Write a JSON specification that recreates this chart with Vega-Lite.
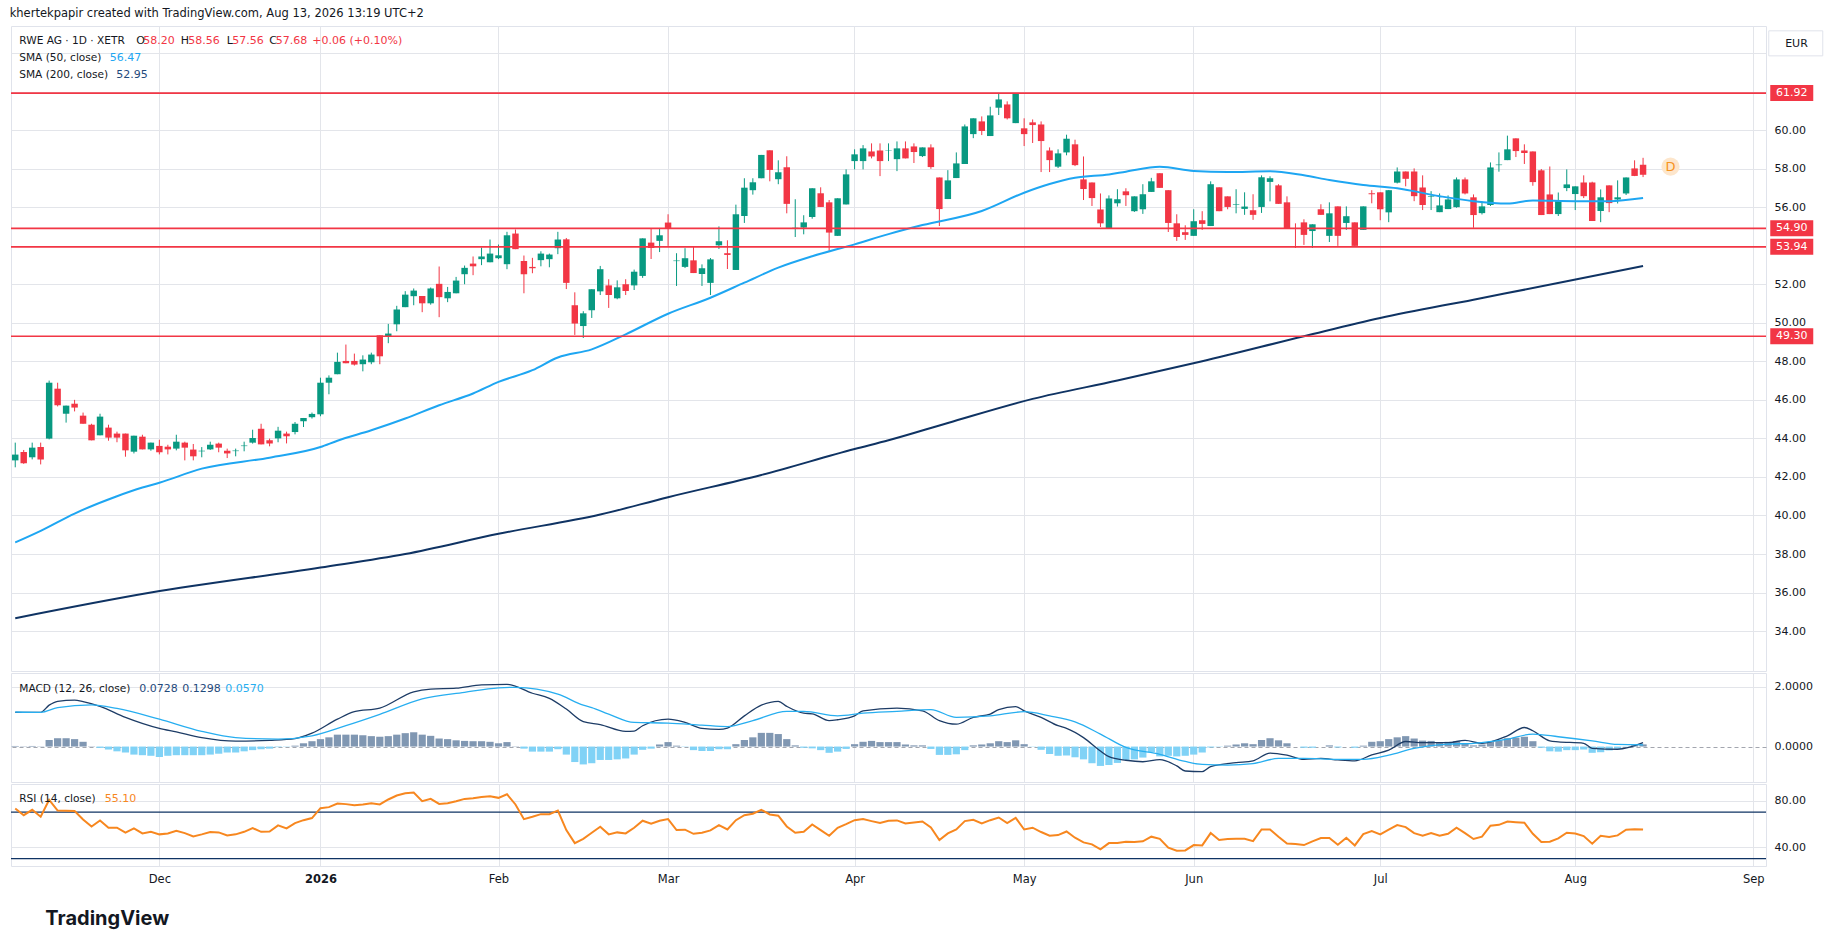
{
"$schema":"https://vega.github.io/schema/vega-lite/v6.json",
"background":"white",
"padding":{"left":9,"top":8,"right":5,"bottom":5},
"title":{"text":"khertekpapir created with TradingView.com, Aug 13, 2026 13:19 UTC+2","anchor":"start","fontSize":11.5,"fontWeight":"normal","font":"DejaVu Sans","color":"#131722","offset":6},
"config":{"font":"DejaVu Sans","view":{"stroke":"#e0e3eb"},"concat":{"spacing":0},
"axis":{"labelFont":"DejaVu Sans","labelFontSize":11,"labelColor":"#131722","gridColor":"#e3e5ea","ticks":false,"domain":false}},
"datasets":{
"bars":[
{"d":"2025-11-06","o":42.86,"h":43.78,"l":42.5,"c":43.16,"hist":0.02,"rsi":73.1},
{"d":"2025-11-07","o":43.29,"h":43.4,"l":42.68,"c":42.71,"hist":0.01,"rsi":67.4},
{"d":"2025-11-10","o":43.02,"h":43.78,"l":42.91,"c":43.52,"hist":0.02,"rsi":72.0},
{"d":"2025-11-11","o":43.55,"h":43.78,"l":42.65,"c":42.91,"hist":0.01,"rsi":66.0},
{"d":"2025-11-12","o":43.99,"h":47.0,"l":43.95,"c":46.89,"hist":0.22,"rsi":80.6},
{"d":"2025-11-13","o":46.58,"h":46.89,"l":45.66,"c":45.72,"hist":0.28,"rsi":71.4},
{"d":"2025-11-14","o":45.28,"h":45.7,"l":44.82,"c":45.7,"hist":0.28,"rsi":71.1},
{"d":"2025-11-17","o":45.8,"h":46.0,"l":45.4,"c":45.6,"hist":0.25,"rsi":70.9},
{"d":"2025-11-18","o":45.18,"h":45.34,"l":44.76,"c":44.76,"hist":0.16,"rsi":63.7},
{"d":"2025-11-19","o":44.71,"h":44.76,"l":43.9,"c":43.9,"hist":0.01,"rsi":57.7},
{"d":"2025-11-20","o":44.16,"h":45.28,"l":44.16,"c":45.13,"hist":-0.045,"rsi":62.9},
{"d":"2025-11-21","o":44.56,"h":44.71,"l":43.88,"c":44.04,"hist":-0.1,"rsi":56.6},
{"d":"2025-11-24","o":44.25,"h":44.35,"l":43.8,"c":44.04,"hist":-0.16,"rsi":56.6},
{"d":"2025-11-25","o":44.25,"h":44.25,"l":43.05,"c":43.38,"hist":-0.2,"rsi":52.3},
{"d":"2025-11-26","o":43.31,"h":44.14,"l":43.22,"c":44.14,"hist":-0.27,"rsi":56.0},
{"d":"2025-11-27","o":44.09,"h":44.19,"l":43.43,"c":43.43,"hist":-0.29,"rsi":51.7},
{"d":"2025-11-28","o":43.43,"h":43.78,"l":43.36,"c":43.78,"hist":-0.31,"rsi":53.1},
{"d":"2025-12-01","o":43.61,"h":43.93,"l":43.17,"c":43.28,"hist":-0.35,"rsi":50.9},
{"d":"2025-12-02","o":43.57,"h":43.67,"l":43.17,"c":43.43,"hist":-0.31,"rsi":51.7},
{"d":"2025-12-03","o":43.47,"h":44.19,"l":43.38,"c":43.83,"hist":-0.29,"rsi":54.0},
{"d":"2025-12-04","o":43.78,"h":43.83,"l":42.86,"c":43.52,"hist":-0.29,"rsi":52.0},
{"d":"2025-12-05","o":43.42,"h":43.71,"l":42.86,"c":43.07,"hist":-0.29,"rsi":49.1},
{"d":"2025-12-08","o":43.33,"h":43.55,"l":43.02,"c":43.36,"hist":-0.29,"rsi":50.9},
{"d":"2025-12-09","o":43.43,"h":43.83,"l":43.4,"c":43.67,"hist":-0.27,"rsi":52.9},
{"d":"2025-12-10","o":43.73,"h":43.78,"l":43.28,"c":43.52,"hist":-0.24,"rsi":52.6},
{"d":"2025-12-11","o":43.36,"h":43.47,"l":42.98,"c":43.22,"hist":-0.2,"rsi":50.0},
{"d":"2025-12-12","o":43.34,"h":43.47,"l":43.07,"c":43.37,"hist":-0.2,"rsi":50.9},
{"d":"2025-12-15","o":43.6,"h":43.83,"l":43.33,"c":43.63,"hist":-0.16,"rsi":53.1},
{"d":"2025-12-16","o":43.78,"h":44.45,"l":43.73,"c":44.02,"hist":-0.12,"rsi":56.3},
{"d":"2025-12-17","o":44.5,"h":44.76,"l":43.69,"c":43.69,"hist":-0.09,"rsi":53.1},
{"d":"2025-12-18","o":43.9,"h":43.99,"l":43.59,"c":43.74,"hist":-0.07,"rsi":53.4},
{"d":"2025-12-19","o":44.0,"h":44.6,"l":43.8,"c":44.4,"hist":-0.02,"rsi":58.6},
{"d":"2025-12-22","o":44.25,"h":44.35,"l":43.74,"c":44.11,"hist":-0.01,"rsi":56.0},
{"d":"2025-12-23","o":44.33,"h":44.85,"l":44.21,"c":44.76,"hist":0.03,"rsi":60.6},
{"d":"2025-12-29","o":44.89,"h":45.06,"l":44.59,"c":45.06,"hist":0.11,"rsi":63.1},
{"d":"2025-12-30","o":45.1,"h":45.34,"l":45.03,"c":45.27,"hist":0.18,"rsi":64.9},
{"d":"2026-01-02","o":45.25,"h":47.15,"l":45.15,"c":46.89,"hist":0.25,"rsi":73.4},
{"d":"2026-01-05","o":46.89,"h":47.27,"l":46.29,"c":47.15,"hist":0.31,"rsi":74.3},
{"d":"2026-01-06","o":47.33,"h":48.45,"l":47.33,"c":47.97,"hist":0.4,"rsi":77.4},
{"d":"2026-01-07","o":48.02,"h":48.87,"l":47.9,"c":47.9,"hist":0.4,"rsi":76.9},
{"d":"2026-01-08","o":48.02,"h":48.4,"l":47.78,"c":47.83,"hist":0.4,"rsi":76.0},
{"d":"2026-01-09","o":47.85,"h":48.31,"l":47.48,"c":48.09,"hist":0.38,"rsi":76.6},
{"d":"2026-01-12","o":47.95,"h":48.45,"l":47.85,"c":48.35,"hist":0.35,"rsi":77.7},
{"d":"2026-01-13","o":49.35,"h":49.35,"l":47.85,"c":48.26,"hist":0.33,"rsi":76.6},
{"d":"2026-01-14","o":49.27,"h":49.94,"l":48.94,"c":49.44,"hist":0.35,"rsi":80.9},
{"d":"2026-01-15","o":49.92,"h":50.88,"l":49.56,"c":50.69,"hist":0.4,"rsi":84.3},
{"d":"2026-01-16","o":50.81,"h":51.64,"l":50.81,"c":51.46,"hist":0.45,"rsi":86.3},
{"d":"2026-01-19","o":51.38,"h":51.78,"l":50.91,"c":51.67,"hist":0.48,"rsi":86.9},
{"d":"2026-01-20","o":51.39,"h":51.39,"l":50.55,"c":51.01,"hist":0.4,"rsi":79.4},
{"d":"2026-01-21","o":51.01,"h":51.83,"l":50.94,"c":51.78,"hist":0.36,"rsi":81.4},
{"d":"2026-01-22","o":52.02,"h":52.92,"l":50.29,"c":51.33,"hist":0.27,"rsi":77.1},
{"d":"2026-01-23","o":51.27,"h":51.86,"l":51.07,"c":51.6,"hist":0.25,"rsi":77.7},
{"d":"2026-01-26","o":51.53,"h":52.38,"l":51.53,"c":52.19,"hist":0.21,"rsi":79.4},
{"d":"2026-01-27","o":52.52,"h":52.97,"l":52.0,"c":52.85,"hist":0.19,"rsi":81.4},
{"d":"2026-01-28","o":53.07,"h":53.44,"l":52.47,"c":52.93,"hist":0.18,"rsi":82.0},
{"d":"2026-01-29","o":53.3,"h":53.9,"l":52.99,"c":53.44,"hist":0.18,"rsi":83.1},
{"d":"2026-01-30","o":53.14,"h":54.32,"l":53.14,"c":53.59,"hist":0.16,"rsi":83.7},
{"d":"2026-02-02","o":53.35,"h":54.06,"l":53.3,"c":53.5,"hist":0.11,"rsi":82.3},
{"d":"2026-02-03","o":53.04,"h":54.72,"l":52.78,"c":54.54,"hist":0.15,"rsi":85.4},
{"d":"2026-02-04","o":54.63,"h":54.84,"l":53.82,"c":53.82,"hist":0.01,"rsi":76.6},
{"d":"2026-02-05","o":53.21,"h":53.49,"l":51.53,"c":52.52,"hist":-0.07,"rsi":64.0},
{"d":"2026-02-06","o":52.9,"h":53.37,"l":52.57,"c":52.83,"hist":-0.17,"rsi":66.0},
{"d":"2026-02-09","o":53.25,"h":53.71,"l":52.93,"c":53.59,"hist":-0.17,"rsi":68.3},
{"d":"2026-02-10","o":53.3,"h":53.59,"l":52.88,"c":53.54,"hist":-0.17,"rsi":68.3},
{"d":"2026-02-11","o":53.87,"h":54.72,"l":53.56,"c":54.32,"hist":-0.09,"rsi":71.4},
{"d":"2026-02-12","o":54.33,"h":54.4,"l":51.75,"c":52.07,"hist":-0.27,"rsi":54.6},
{"d":"2026-02-13","o":50.91,"h":51.58,"l":49.37,"c":49.96,"hist":-0.52,"rsi":43.4},
{"d":"2026-02-16","o":49.83,"h":50.6,"l":49.21,"c":50.49,"hist":-0.6,"rsi":47.1},
{"d":"2026-02-17","o":50.65,"h":51.74,"l":50.25,"c":51.74,"hist":-0.56,"rsi":52.3},
{"d":"2026-02-18","o":51.63,"h":52.95,"l":51.44,"c":52.78,"hist":-0.45,"rsi":57.4},
{"d":"2026-02-19","o":51.94,"h":52.26,"l":50.77,"c":51.44,"hist":-0.45,"rsi":50.9},
{"d":"2026-02-20","o":51.27,"h":52.2,"l":51.22,"c":51.84,"hist":-0.43,"rsi":52.6},
{"d":"2026-02-23","o":52.0,"h":52.26,"l":51.44,"c":51.65,"hist":-0.4,"rsi":51.7},
{"d":"2026-02-24","o":51.94,"h":52.76,"l":51.7,"c":52.65,"hist":-0.27,"rsi":56.6},
{"d":"2026-02-25","o":52.43,"h":54.38,"l":52.33,"c":54.38,"hist":-0.11,"rsi":62.6},
{"d":"2026-02-26","o":54.16,"h":54.89,"l":53.31,"c":53.88,"hist":-0.07,"rsi":60.0},
{"d":"2026-02-27","o":54.25,"h":54.92,"l":53.67,"c":54.54,"hist":0.07,"rsi":62.6},
{"d":"2026-03-02","o":55.2,"h":55.63,"l":53.99,"c":54.92,"hist":0.15,"rsi":64.0},
{"d":"2026-03-03","o":53.2,"h":53.61,"l":51.91,"c":53.23,"hist":0.03,"rsi":54.6},
{"d":"2026-03-04","o":52.9,"h":53.87,"l":52.84,"c":53.35,"hist":-0.01,"rsi":54.9},
{"d":"2026-03-05","o":53.24,"h":53.95,"l":52.58,"c":52.58,"hist":-0.12,"rsi":51.4},
{"d":"2026-03-06","o":52.53,"h":53.03,"l":51.91,"c":52.83,"hist":-0.15,"rsi":52.3},
{"d":"2026-03-09","o":52.07,"h":53.36,"l":51.44,"c":53.29,"hist":-0.15,"rsi":54.3},
{"d":"2026-03-10","o":54.02,"h":55.0,"l":53.83,"c":54.23,"hist":-0.09,"rsi":58.9},
{"d":"2026-03-11","o":53.61,"h":54.28,"l":52.79,"c":53.52,"hist":-0.09,"rsi":55.1},
{"d":"2026-03-12","o":52.74,"h":56.13,"l":52.74,"c":55.63,"hist":0.08,"rsi":63.1},
{"d":"2026-03-13","o":55.54,"h":57.5,"l":55.18,"c":57.01,"hist":0.22,"rsi":67.4},
{"d":"2026-03-16","o":56.88,"h":57.5,"l":56.65,"c":57.29,"hist":0.31,"rsi":68.6},
{"d":"2026-03-17","o":57.5,"h":58.71,"l":57.5,"c":58.71,"hist":0.46,"rsi":72.0},
{"d":"2026-03-18","o":58.95,"h":58.95,"l":57.34,"c":57.93,"hist":0.46,"rsi":68.0},
{"d":"2026-03-19","o":57.45,"h":58.43,"l":57.19,"c":57.81,"hist":0.42,"rsi":66.9},
{"d":"2026-03-20","o":58.07,"h":58.64,"l":55.68,"c":56.17,"hist":0.25,"rsi":57.7},
{"d":"2026-03-23","o":54.9,"h":56.41,"l":54.45,"c":54.93,"hist":0.04,"rsi":52.3},
{"d":"2026-03-24","o":54.94,"h":55.58,"l":54.59,"c":55.21,"hist":-0.04,"rsi":53.1},
{"d":"2026-03-25","o":55.49,"h":56.98,"l":55.4,"c":56.98,"hist":-0.06,"rsi":59.4},
{"d":"2026-03-26","o":56.72,"h":57.03,"l":56.01,"c":56.01,"hist":-0.12,"rsi":54.6},
{"d":"2026-03-27","o":56.25,"h":56.37,"l":53.73,"c":54.68,"hist":-0.21,"rsi":49.7},
{"d":"2026-03-30","o":54.51,"h":56.46,"l":54.51,"c":56.46,"hist":-0.17,"rsi":56.6},
{"d":"2026-03-31","o":56.14,"h":57.96,"l":56.14,"c":57.7,"hist":-0.08,"rsi":59.7},
{"d":"2026-04-01","o":58.39,"h":59.0,"l":57.96,"c":58.74,"hist":0.08,"rsi":63.1},
{"d":"2026-04-02","o":58.39,"h":59.22,"l":57.96,"c":59.05,"hist":0.16,"rsi":64.0},
{"d":"2026-04-07","o":58.89,"h":59.31,"l":58.53,"c":58.63,"hist":0.19,"rsi":62.3},
{"d":"2026-04-08","o":58.94,"h":59.31,"l":57.61,"c":58.39,"hist":0.15,"rsi":60.6},
{"d":"2026-04-09","o":58.93,"h":59.31,"l":58.39,"c":58.95,"hist":0.15,"rsi":62.6},
{"d":"2026-04-10","o":58.49,"h":59.41,"l":57.87,"c":59.05,"hist":0.15,"rsi":62.9},
{"d":"2026-04-13","o":59.05,"h":59.41,"l":58.53,"c":58.53,"hist":0.07,"rsi":60.3},
{"d":"2026-04-14","o":59.15,"h":59.31,"l":58.29,"c":58.86,"hist":0.04,"rsi":61.1},
{"d":"2026-04-15","o":58.65,"h":59.1,"l":58.6,"c":59.1,"hist":0.04,"rsi":62.0},
{"d":"2026-04-16","o":59.1,"h":59.26,"l":57.99,"c":58.08,"hist":-0.08,"rsi":56.9},
{"d":"2026-04-17","o":57.54,"h":57.54,"l":55.02,"c":55.9,"hist":-0.28,"rsi":46.0},
{"d":"2026-04-20","o":56.42,"h":57.92,"l":56.42,"c":57.39,"hist":-0.28,"rsi":51.7},
{"d":"2026-04-21","o":57.51,"h":58.84,"l":57.51,"c":58.27,"hist":-0.26,"rsi":55.1},
{"d":"2026-04-22","o":58.24,"h":60.29,"l":58.24,"c":60.19,"hist":-0.12,"rsi":62.3},
{"d":"2026-04-23","o":59.79,"h":60.61,"l":59.58,"c":60.61,"hist":0.04,"rsi":63.4},
{"d":"2026-04-24","o":60.45,"h":60.71,"l":59.74,"c":59.95,"hist":0.07,"rsi":60.3},
{"d":"2026-04-27","o":59.69,"h":61.21,"l":59.69,"c":60.76,"hist":0.11,"rsi":63.1},
{"d":"2026-04-28","o":61.16,"h":61.92,"l":60.78,"c":61.59,"hist":0.18,"rsi":65.4},
{"d":"2026-04-29","o":61.33,"h":61.49,"l":60.55,"c":60.61,"hist":0.15,"rsi":60.6},
{"d":"2026-04-30","o":60.36,"h":61.92,"l":60.36,"c":61.9,"hist":0.21,"rsi":65.1},
{"d":"2026-05-04","o":60.09,"h":60.61,"l":59.17,"c":59.79,"hist":0.08,"rsi":55.1},
{"d":"2026-05-05","o":60.4,"h":60.55,"l":59.33,"c":60.26,"hist":-0.01,"rsi":56.6},
{"d":"2026-05-06","o":60.29,"h":60.45,"l":57.82,"c":59.43,"hist":-0.11,"rsi":52.9},
{"d":"2026-05-07","o":58.94,"h":59.1,"l":57.82,"c":58.44,"hist":-0.25,"rsi":49.7},
{"d":"2026-05-08","o":58.1,"h":59.0,"l":58.03,"c":58.79,"hist":-0.31,"rsi":50.3},
{"d":"2026-05-11","o":58.84,"h":59.76,"l":58.69,"c":59.55,"hist":-0.3,"rsi":53.4},
{"d":"2026-05-12","o":59.26,"h":59.5,"l":58.13,"c":58.18,"hist":-0.36,"rsi":48.0},
{"d":"2026-05-13","o":57.44,"h":58.63,"l":56.37,"c":56.94,"hist":-0.43,"rsi":44.0},
{"d":"2026-05-14","o":57.28,"h":57.28,"l":56.06,"c":56.47,"hist":-0.56,"rsi":42.3},
{"d":"2026-05-15","o":55.88,"h":56.71,"l":54.97,"c":55.16,"hist":-0.65,"rsi":38.0},
{"d":"2026-05-18","o":54.91,"h":56.61,"l":54.91,"c":56.45,"hist":-0.62,"rsi":43.4},
{"d":"2026-05-19","o":56.2,"h":56.93,"l":56.03,"c":56.41,"hist":-0.55,"rsi":43.4},
{"d":"2026-05-20","o":56.82,"h":56.98,"l":56.06,"c":56.62,"hist":-0.45,"rsi":44.6},
{"d":"2026-05-21","o":55.79,"h":56.56,"l":55.75,"c":56.56,"hist":-0.43,"rsi":44.3},
{"d":"2026-05-22","o":55.89,"h":57.19,"l":55.65,"c":56.67,"hist":-0.37,"rsi":44.9},
{"d":"2026-05-25","o":56.79,"h":57.52,"l":56.79,"c":57.34,"hist":-0.19,"rsi":48.9},
{"d":"2026-05-26","o":57.76,"h":57.76,"l":57.0,"c":57.0,"hist":-0.33,"rsi":47.1},
{"d":"2026-05-27","o":56.88,"h":56.88,"l":54.71,"c":55.18,"hist":-0.31,"rsi":39.4},
{"d":"2026-05-28","o":55.16,"h":55.63,"l":54.25,"c":54.45,"hist":-0.33,"rsi":36.9},
{"d":"2026-05-29","o":54.7,"h":55.06,"l":54.3,"c":54.56,"hist":-0.31,"rsi":37.1},
{"d":"2026-06-01","o":54.51,"h":55.89,"l":54.51,"c":55.27,"hist":-0.27,"rsi":41.7},
{"d":"2026-06-02","o":55.32,"h":55.79,"l":54.82,"c":55.13,"hist":-0.2,"rsi":41.4},
{"d":"2026-06-03","o":55.02,"h":57.34,"l":55.02,"c":57.19,"hist":-0.03,"rsi":52.0},
{"d":"2026-06-04","o":57.03,"h":57.03,"l":55.79,"c":55.79,"hist":-0.01,"rsi":46.0},
{"d":"2026-06-05","o":56.56,"h":56.56,"l":55.89,"c":56.01,"hist":0.03,"rsi":46.9},
{"d":"2026-06-08","o":56.13,"h":56.93,"l":55.68,"c":56.16,"hist":0.07,"rsi":47.1},
{"d":"2026-06-09","o":55.91,"h":56.77,"l":55.6,"c":56.03,"hist":0.11,"rsi":47.1},
{"d":"2026-06-10","o":55.84,"h":56.67,"l":55.34,"c":55.6,"hist":0.08,"rsi":45.1},
{"d":"2026-06-11","o":56.01,"h":57.65,"l":55.7,"c":57.55,"hist":0.22,"rsi":55.1},
{"d":"2026-06-12","o":57.31,"h":57.6,"l":56.3,"c":57.5,"hist":0.28,"rsi":55.1},
{"d":"2026-06-15","o":57.13,"h":57.19,"l":56.17,"c":56.17,"hist":0.21,"rsi":48.9},
{"d":"2026-06-16","o":56.25,"h":56.56,"l":54.89,"c":54.89,"hist":0.11,"rsi":43.1},
{"d":"2026-06-17","o":54.9,"h":55.16,"l":53.88,"c":54.87,"hist":0.0,"rsi":42.6},
{"d":"2026-06-18","o":55.21,"h":55.37,"l":54.04,"c":54.56,"hist":-0.04,"rsi":41.7},
{"d":"2026-06-19","o":54.76,"h":55.11,"l":53.88,"c":55.11,"hist":-0.04,"rsi":44.9},
{"d":"2026-06-22","o":55.89,"h":56.15,"l":55.6,"c":55.6,"hist":0.0,"rsi":47.7},
{"d":"2026-06-23","o":54.51,"h":56.25,"l":54.19,"c":55.68,"hist":0.04,"rsi":47.7},
{"d":"2026-06-24","o":56.04,"h":56.04,"l":53.99,"c":54.51,"hist":-0.03,"rsi":42.0},
{"d":"2026-06-25","o":55.18,"h":56.04,"l":54.82,"c":55.53,"hist":0.0,"rsi":48.0},
{"d":"2026-06-26","o":55.21,"h":55.21,"l":53.94,"c":53.99,"hist":-0.04,"rsi":41.4},
{"d":"2026-06-29","o":54.82,"h":56.04,"l":54.82,"c":56.04,"hist":0.03,"rsi":51.1},
{"d":"2026-06-30","o":56.72,"h":56.88,"l":56.2,"c":56.67,"hist":0.16,"rsi":53.7},
{"d":"2026-07-01","o":56.77,"h":56.77,"l":55.32,"c":55.89,"hist":0.18,"rsi":50.9},
{"d":"2026-07-02","o":55.73,"h":56.89,"l":55.22,"c":56.88,"hist":0.25,"rsi":54.9},
{"d":"2026-07-03","o":57.27,"h":58.06,"l":57.23,"c":57.85,"hist":0.31,"rsi":58.9},
{"d":"2026-07-06","o":57.85,"h":57.85,"l":57.08,"c":57.47,"hist":0.35,"rsi":57.1},
{"d":"2026-07-07","o":57.85,"h":58.01,"l":56.31,"c":56.57,"hist":0.27,"rsi":52.0},
{"d":"2026-07-08","o":57.02,"h":57.65,"l":55.85,"c":56.11,"hist":0.2,"rsi":49.7},
{"d":"2026-07-09","o":56.54,"h":56.83,"l":55.85,"c":56.57,"hist":0.19,"rsi":52.0},
{"d":"2026-07-10","o":55.74,"h":56.71,"l":55.74,"c":56.09,"hist":0.15,"rsi":49.7},
{"d":"2026-07-13","o":55.9,"h":56.61,"l":55.9,"c":56.4,"hist":0.16,"rsi":51.4},
{"d":"2026-07-14","o":56.0,"h":57.54,"l":55.97,"c":57.44,"hist":0.18,"rsi":56.6},
{"d":"2026-07-15","o":57.44,"h":57.54,"l":56.66,"c":56.71,"hist":0.12,"rsi":52.0},
{"d":"2026-07-16","o":56.51,"h":56.66,"l":54.93,"c":55.59,"hist":0.04,"rsi":46.9},
{"d":"2026-07-17","o":55.69,"h":56.3,"l":55.62,"c":56.04,"hist":0.07,"rsi":48.9},
{"d":"2026-07-20","o":56.11,"h":58.32,"l":56.06,"c":58.06,"hist":0.16,"rsi":58.3},
{"d":"2026-07-21","o":58.18,"h":58.84,"l":57.84,"c":58.21,"hist":0.21,"rsi":59.1},
{"d":"2026-07-22","o":58.44,"h":59.71,"l":58.44,"c":59.0,"hist":0.28,"rsi":62.0},
{"d":"2026-07-23","o":59.57,"h":59.57,"l":58.6,"c":58.91,"hist":0.3,"rsi":61.4},
{"d":"2026-07-24","o":58.94,"h":59.26,"l":58.24,"c":58.81,"hist":0.33,"rsi":60.9},
{"d":"2026-07-27","o":58.89,"h":58.89,"l":57.11,"c":57.3,"hist":0.18,"rsi":51.4},
{"d":"2026-07-28","o":57.91,"h":57.98,"l":55.59,"c":55.59,"hist":-0.04,"rsi":44.3},
{"d":"2026-07-29","o":56.66,"h":58.11,"l":55.64,"c":55.64,"hist":-0.16,"rsi":44.6},
{"d":"2026-07-30","o":55.64,"h":56.76,"l":55.54,"c":56.31,"hist":-0.17,"rsi":47.4},
{"d":"2026-07-31","o":56.99,"h":57.96,"l":56.83,"c":57.18,"hist":-0.12,"rsi":52.3},
{"d":"2026-08-03","o":56.68,"h":57.08,"l":55.85,"c":57.08,"hist":-0.12,"rsi":51.7},
{"d":"2026-08-04","o":57.28,"h":57.65,"l":56.47,"c":56.57,"hist":-0.1,"rsi":49.4},
{"d":"2026-08-05","o":57.28,"h":57.32,"l":55.28,"c":55.28,"hist":-0.21,"rsi":42.9},
{"d":"2026-08-06","o":55.8,"h":56.92,"l":55.22,"c":56.51,"hist":-0.19,"rsi":49.7},
{"d":"2026-08-07","o":57.13,"h":57.13,"l":55.74,"c":56.21,"hist":-0.13,"rsi":48.6},
{"d":"2026-08-10","o":56.4,"h":57.39,"l":56.19,"c":56.51,"hist":-0.07,"rsi":50.0},
{"d":"2026-08-11","o":56.71,"h":57.54,"l":56.63,"c":57.54,"hist":-0.01,"rsi":54.9},
{"d":"2026-08-12","o":58.01,"h":58.43,"l":57.61,"c":57.62,"hist":0.04,"rsi":55.4},
{"d":"2026-08-13","o":58.2,"h":58.56,"l":57.56,"c":57.68,"hist":0.0728,"rsi":55.1}
],
"sma50":[
{"d":"2025-11-06","v":38.6},{"d":"2025-11-11","v":39.2},{"d":"2025-11-17","v":40.1},{"d":"2025-11-24","v":41.0},{"d":"2025-11-27","v":41.45},{"d":"2025-12-01","v":41.7},{"d":"2025-12-08","v":42.43},{"d":"2025-12-18","v":43.0},{"d":"2026-01-02","v":43.55},{"d":"2026-01-06","v":43.88},{"d":"2026-01-12","v":44.42},{"d":"2026-01-16","v":45.03},{"d":"2026-01-22","v":45.72},{"d":"2026-01-28","v":46.33},{"d":"2026-02-02","v":46.93},{"d":"2026-02-06","v":47.54},{"d":"2026-02-11","v":48.2},{"d":"2026-02-17","v":48.62},{"d":"2026-02-23","v":49.4},{"d":"2026-03-02","v":50.47},{"d":"2026-03-09","v":51.3},{"d":"2026-03-13","v":52.08},{"d":"2026-03-19","v":52.86},{"d":"2026-03-25","v":53.45},{"d":"2026-04-01","v":54.07},{"d":"2026-04-09","v":54.6},{"d":"2026-04-15","v":55.07},{"d":"2026-04-24","v":55.8},{"d":"2026-05-04","v":56.75},{"d":"2026-05-07","v":57.2},{"d":"2026-05-12","v":57.53},{"d":"2026-05-18","v":57.7},{"d":"2026-05-20","v":57.84},{"d":"2026-05-26","v":58.09},{"d":"2026-06-01","v":57.88},{"d":"2026-06-05","v":57.82},{"d":"2026-06-12","v":57.86},{"d":"2026-06-18","v":57.65},{"d":"2026-06-23","v":57.41},{"d":"2026-06-29","v":57.15},{"d":"2026-07-03","v":56.98},{"d":"2026-07-10","v":56.57},{"d":"2026-07-16","v":56.31},{"d":"2026-07-22","v":56.19},{"d":"2026-07-27","v":56.35},{"d":"2026-08-03","v":56.31},{"d":"2026-08-07","v":56.31},{"d":"2026-08-13","v":56.47}
],
"sma200":[
{"d":"2025-11-06","v":34.67},{"d":"2025-11-28","v":36.0},{"d":"2026-01-02","v":37.3},{"d":"2026-01-16","v":38.0},{"d":"2026-02-02","v":39.05},{"d":"2026-02-18","v":40.05},{"d":"2026-03-02","v":40.95},{"d":"2026-03-17","v":42.1},{"d":"2026-04-01","v":43.45},{"d":"2026-04-09","v":43.9},{"d":"2026-04-20","v":44.8},{"d":"2026-05-05","v":46.05},{"d":"2026-05-19","v":47.0},{"d":"2026-06-02","v":48.0},{"d":"2026-06-18","v":49.3},{"d":"2026-07-01","v":50.25},{"d":"2026-07-16","v":51.2},{"d":"2026-07-31","v":52.15},{"d":"2026-08-13","v":52.95}
],
"macd":[
{"d":"2025-11-06","v":1.15},{"d":"2025-11-11","v":1.15},{"d":"2025-11-12","v":1.39},{"d":"2025-11-13","v":1.52},{"d":"2025-11-17","v":1.56},{"d":"2025-11-18","v":1.51},{"d":"2025-11-20","v":1.35},{"d":"2025-11-25","v":0.98},{"d":"2025-12-01","v":0.61},{"d":"2025-12-03","v":0.49},{"d":"2025-12-08","v":0.3},{"d":"2025-12-12","v":0.18},{"d":"2025-12-18","v":0.21},{"d":"2025-12-23","v":0.27},{"d":"2025-12-30","v":0.45},{"d":"2026-01-06","v":0.92},{"d":"2026-01-08","v":1.17},{"d":"2026-01-13","v":1.29},{"d":"2026-01-19","v":1.84},{"d":"2026-01-21","v":1.93},{"d":"2026-01-26","v":1.96},{"d":"2026-01-29","v":2.07},{"d":"2026-02-03","v":2.09},{"d":"2026-02-06","v":1.79},{"d":"2026-02-10","v":1.62},{"d":"2026-02-12","v":1.26},{"d":"2026-02-16","v":0.84},{"d":"2026-02-18","v":0.74},{"d":"2026-02-23","v":0.51},{"d":"2026-02-24","v":0.52},{"d":"2026-02-25","v":0.7},{"d":"2026-03-02","v":0.92},{"d":"2026-03-04","v":0.81},{"d":"2026-03-06","v":0.61},{"d":"2026-03-10","v":0.58},{"d":"2026-03-11","v":0.62},{"d":"2026-03-13","v":1.03},{"d":"2026-03-17","v":1.39},{"d":"2026-03-19","v":1.52},{"d":"2026-03-20","v":1.35},{"d":"2026-03-24","v":1.12},{"d":"2026-03-25","v":1.1},{"d":"2026-03-27","v":0.87},{"d":"2026-03-30","v":0.9},{"d":"2026-04-01","v":1.03},{"d":"2026-04-02","v":1.2},{"d":"2026-04-10","v":1.29},{"d":"2026-04-15","v":1.2},{"d":"2026-04-17","v":0.87},{"d":"2026-04-21","v":0.75},{"d":"2026-04-23","v":0.98},{"d":"2026-04-27","v":1.09},{"d":"2026-04-28","v":1.24},{"d":"2026-04-30","v":1.34},{"d":"2026-05-04","v":1.2},{"d":"2026-05-06","v":0.98},{"d":"2026-05-08","v":0.7},{"d":"2026-05-11","v":0.61},{"d":"2026-05-13","v":0.3},{"d":"2026-05-15","v":-0.15},{"d":"2026-05-18","v":-0.34},{"d":"2026-05-20","v":-0.46},{"d":"2026-05-22","v":-0.51},{"d":"2026-05-26","v":-0.44},{"d":"2026-05-28","v":-0.65},{"d":"2026-05-29","v":-0.82},{"d":"2026-06-02","v":-0.84},{"d":"2026-06-03","v":-0.67},{"d":"2026-06-08","v":-0.54},{"d":"2026-06-10","v":-0.48},{"d":"2026-06-12","v":-0.22},{"d":"2026-06-16","v":-0.29},{"d":"2026-06-18","v":-0.43},{"d":"2026-06-22","v":-0.4},{"d":"2026-06-24","v":-0.45},{"d":"2026-06-26","v":-0.48},{"d":"2026-06-30","v":-0.28},{"d":"2026-07-02","v":-0.12},{"d":"2026-07-06","v":0.17},{"d":"2026-07-08","v":0.13},{"d":"2026-07-13","v":0.13},{"d":"2026-07-15","v":0.21},{"d":"2026-07-17","v":0.11},{"d":"2026-07-22","v":0.36},{"d":"2026-07-24","v":0.64},{"d":"2026-07-27","v":0.53},{"d":"2026-07-29","v":0.19},{"d":"2026-07-30","v":0.16},{"d":"2026-08-04","v":0.11},{"d":"2026-08-05","v":-0.06},{"d":"2026-08-10","v":-0.09},{"d":"2026-08-13","v":0.13}
],
"signal":[
{"d":"2025-11-06","v":1.16},{"d":"2025-11-11","v":1.15},{"d":"2025-11-13","v":1.31},{"d":"2025-11-19","v":1.4},{"d":"2025-11-24","v":1.28},{"d":"2025-12-01","v":0.92},{"d":"2025-12-08","v":0.51},{"d":"2025-12-12","v":0.3},{"d":"2025-12-19","v":0.25},{"d":"2025-12-30","v":0.36},{"d":"2026-01-07","v":0.7},{"d":"2026-01-13","v":1.08},{"d":"2026-01-20","v":1.6},{"d":"2026-01-27","v":1.82},{"d":"2026-02-02","v":1.97},{"d":"2026-02-04","v":1.99},{"d":"2026-02-11","v":1.76},{"d":"2026-02-16","v":1.39},{"d":"2026-02-17","v":1.31},{"d":"2026-02-19","v":1.09},{"d":"2026-02-24","v":0.81},{"d":"2026-03-02","v":0.79},{"d":"2026-03-06","v":0.72},{"d":"2026-03-11","v":0.67},{"d":"2026-03-16","v":0.87},{"d":"2026-03-20","v":1.18},{"d":"2026-03-24","v":1.18},{"d":"2026-03-30","v":1.03},{"d":"2026-04-02","v":1.12},{"d":"2026-04-10","v":1.18},{"d":"2026-04-16","v":1.24},{"d":"2026-04-21","v":0.98},{"d":"2026-04-27","v":1.03},{"d":"2026-05-04","v":1.17},{"d":"2026-05-07","v":1.03},{"d":"2026-05-12","v":0.83},{"d":"2026-05-15","v":0.42},{"d":"2026-05-20","v":-0.03},{"d":"2026-05-26","v":-0.26},{"d":"2026-05-29","v":-0.5},{"d":"2026-06-02","v":-0.6},{"d":"2026-06-05","v":-0.62},{"d":"2026-06-10","v":-0.57},{"d":"2026-06-15","v":-0.4},{"d":"2026-06-18","v":-0.4},{"d":"2026-06-24","v":-0.43},{"d":"2026-06-29","v":-0.43},{"d":"2026-07-02","v":-0.29},{"d":"2026-07-07","v":-0.06},{"d":"2026-07-13","v":0.08},{"d":"2026-07-16","v":0.11},{"d":"2026-07-22","v":0.25},{"d":"2026-07-27","v":0.42},{"d":"2026-07-30","v":0.33},{"d":"2026-08-05","v":0.19},{"d":"2026-08-10","v":0.07},{"d":"2026-08-13","v":0.057}
],
"levels":[{"v":61.92},{"v":54.9},{"v":53.94},{"v":49.3}],
"rsibands":[{"v":70},{"v":30}]
},
"vconcat":[
{
"width":1755,"height":645,
"layer":[
{"data":{"name":"bars"},"mark":{"type":"rule","strokeWidth":1},
"encoding":{
"x":{"field":"d","type":"ordinal","title":null,"scale":{"domain":{"unionWith":["2026-08-14","2026-08-17","2026-08-18","2026-08-19","2026-08-20","2026-08-21","2026-08-24","2026-08-25","2026-08-26","2026-08-27","2026-08-28","2026-08-31","2026-09-01","2026-09-02"]},"paddingInner":0,"paddingOuter":0},
"axis":{"values":["2025-12-01","2026-01-02","2026-02-02","2026-03-02","2026-04-01","2026-05-04","2026-06-01","2026-07-01","2026-08-03","2026-09-01"],"labels":false,"grid":true,"title":null}},
"y":{"field":"l","type":"quantitative","title":"EUR","scale":{"domain":[31.93,65.4],"zero":false,"nice":false},
"axis":{"orient":"right","title":"EUR","titleAngle":0,"titleAlign":"center","titleBaseline":"middle","titleX":30,"titleY":17,"titleFontWeight":"normal","titleFontSize":11,"titleColor":"#131722","titleFont":"DejaVu Sans","values":[34,36,38,40,42,44,46,48,50,52,54,56,58,60,62,64],"format":".2f","labelExpr":"datum.value > 61 ? '' : datum.label","labelPadding":8,"grid":true}},
"y2":{"field":"h"},
"color":{"condition":{"test":"datum.c >= datum.o","value":"#089981"},"value":"#f23645"}}},
{"data":{"name":"bars"},"mark":{"type":"bar","width":{"band":0.76}},
"encoding":{"x":{"field":"d","type":"ordinal","title":null},"y":{"field":"o","type":"quantitative","title":"EUR"},"y2":{"field":"c"},
"color":{"condition":{"test":"datum.c >= datum.o","value":"#089981"},"value":"#f23645"}}},
{"data":{"name":"sma50"},"mark":{"type":"line","color":"#1ea6f2","strokeWidth":2,"interpolate":"monotone"},
"encoding":{"x":{"field":"d","type":"ordinal","title":null},"y":{"field":"v","type":"quantitative","title":"EUR"}}},
{"data":{"name":"sma200"},"mark":{"type":"line","color":"#0f3363","strokeWidth":2,"interpolate":"monotone"},
"encoding":{"x":{"field":"d","type":"ordinal","title":null},"y":{"field":"v","type":"quantitative","title":"EUR"}}},
{"data":{"name":"levels"},"mark":{"type":"rule","color":"#f23645","strokeWidth":1.7},
"encoding":{"y":{"field":"v","type":"quantitative","title":"EUR"}}},
{"data":{"name":"levels"},"mark":{"type":"point","shape":"M-1,-0.372H1V0.372H-1Z","filled":true,"color":"#f23645","opacity":1,"size":1849,"xOffset":30},
"encoding":{"x":{"datum":"2026-09-02","type":"ordinal"},"y":{"field":"v","type":"quantitative","title":"EUR"}}},
{"data":{"name":"levels"},"mark":{"type":"text","color":"white","fontSize":11,"align":"center","baseline":"middle","xOffset":30},
"encoding":{"x":{"datum":"2026-09-02","type":"ordinal"},"y":{"field":"v","type":"quantitative","title":"EUR"},"text":{"field":"v","type":"quantitative","format":".2f"}}},
{"data":{"values":[{"t":"EUR"}]},"mark":{"type":"point","shape":"M-1,-0.463H1V0.463H-1Z","filled":false,"stroke":"#e0e3eb","strokeWidth":1,"opacity":1,"size":2916,"xOffset":34},
"encoding":{"x":{"datum":"2026-09-02","type":"ordinal"},"y":{"datum":64.5,"type":"quantitative"}}},
{"data":{"values":[{"t":"D"}]},"mark":{"type":"point","shape":"circle","filled":true,"color":"#fde6cc","opacity":1,"size":330,"xOffset":2},
"encoding":{"x":{"datum":"2026-08-18","type":"ordinal"},"y":{"datum":58.1,"type":"quantitative"}}},
{"data":{"values":[{"t":"D"}]},"mark":{"type":"text","color":"#f7931e","fontSize":13,"align":"center","baseline":"middle","xOffset":2},
"encoding":{"x":{"datum":"2026-08-18","type":"ordinal"},"y":{"datum":58.1,"type":"quantitative"},"text":{"field":"t"}}},
{"data":{"values":[{"t":"RWE AG · 1D · XETR"}]},"mark":{"type":"text","align":"left","baseline":"middle","dx":4,"fontSize":10.6,"color":"#131722"},
"encoding":{"x":{"datum":"2025-11-06","type":"ordinal"},"y":{"datum":64.6,"type":"quantitative"},"text":{"field":"t"}}},
{"data":{"values":[{"t":"O"}]},"mark":{"type":"text","align":"left","baseline":"middle","dx":121,"fontSize":11,"color":"#131722"},
"encoding":{"x":{"datum":"2025-11-06","type":"ordinal"},"y":{"datum":64.6,"type":"quantitative"},"text":{"field":"t"}}},
{"data":{"values":[{"t":"58.20"}]},"mark":{"type":"text","align":"left","baseline":"middle","dx":128,"fontSize":11,"color":"#f23645"},
"encoding":{"x":{"datum":"2025-11-06","type":"ordinal"},"y":{"datum":64.6,"type":"quantitative"},"text":{"field":"t"}}},
{"data":{"values":[{"t":"H"}]},"mark":{"type":"text","align":"left","baseline":"middle","dx":165.5,"fontSize":11,"color":"#131722"},
"encoding":{"x":{"datum":"2025-11-06","type":"ordinal"},"y":{"datum":64.6,"type":"quantitative"},"text":{"field":"t"}}},
{"data":{"values":[{"t":"58.56"}]},"mark":{"type":"text","align":"left","baseline":"middle","dx":173,"fontSize":11,"color":"#f23645"},
"encoding":{"x":{"datum":"2025-11-06","type":"ordinal"},"y":{"datum":64.6,"type":"quantitative"},"text":{"field":"t"}}},
{"data":{"values":[{"t":"L"}]},"mark":{"type":"text","align":"left","baseline":"middle","dx":211.5,"fontSize":11,"color":"#131722"},
"encoding":{"x":{"datum":"2025-11-06","type":"ordinal"},"y":{"datum":64.6,"type":"quantitative"},"text":{"field":"t"}}},
{"data":{"values":[{"t":"57.56"}]},"mark":{"type":"text","align":"left","baseline":"middle","dx":217,"fontSize":11,"color":"#f23645"},
"encoding":{"x":{"datum":"2025-11-06","type":"ordinal"},"y":{"datum":64.6,"type":"quantitative"},"text":{"field":"t"}}},
{"data":{"values":[{"t":"C"}]},"mark":{"type":"text","align":"left","baseline":"middle","dx":254,"fontSize":11,"color":"#131722"},
"encoding":{"x":{"datum":"2025-11-06","type":"ordinal"},"y":{"datum":64.6,"type":"quantitative"},"text":{"field":"t"}}},
{"data":{"values":[{"t":"57.68"}]},"mark":{"type":"text","align":"left","baseline":"middle","dx":260.5,"fontSize":11,"color":"#f23645"},
"encoding":{"x":{"datum":"2025-11-06","type":"ordinal"},"y":{"datum":64.6,"type":"quantitative"},"text":{"field":"t"}}},
{"data":{"values":[{"t":"+0.06 (+0.10%)"}]},"mark":{"type":"text","align":"left","baseline":"middle","dx":297,"fontSize":11,"color":"#f23645"},
"encoding":{"x":{"datum":"2025-11-06","type":"ordinal"},"y":{"datum":64.6,"type":"quantitative"},"text":{"field":"t"}}},
{"data":{"values":[{"t":"SMA (50, close)"}]},"mark":{"type":"text","align":"left","baseline":"middle","dx":4,"fontSize":10.6,"color":"#131722"},
"encoding":{"x":{"datum":"2025-11-06","type":"ordinal"},"y":{"datum":63.72,"type":"quantitative"},"text":{"field":"t"}}},
{"data":{"values":[{"t":"56.47"}]},"mark":{"type":"text","align":"left","baseline":"middle","dx":94.5,"fontSize":11,"color":"#1ea6f2"},
"encoding":{"x":{"datum":"2025-11-06","type":"ordinal"},"y":{"datum":63.72,"type":"quantitative"},"text":{"field":"t"}}},
{"data":{"values":[{"t":"SMA (200, close)"}]},"mark":{"type":"text","align":"left","baseline":"middle","dx":4,"fontSize":10.6,"color":"#131722"},
"encoding":{"x":{"datum":"2025-11-06","type":"ordinal"},"y":{"datum":62.85,"type":"quantitative"},"text":{"field":"t"}}},
{"data":{"values":[{"t":"52.95"}]},"mark":{"type":"text","align":"left","baseline":"middle","dx":101,"fontSize":11,"color":"#1f4a7c"},
"encoding":{"x":{"datum":"2025-11-06","type":"ordinal"},"y":{"datum":62.85,"type":"quantitative"},"text":{"field":"t"}}}
]
},
{
"width":1755,"height":109,
"layer":[
{"data":{"name":"bars"},"mark":{"type":"bar","width":{"band":0.85}},
"encoding":{
"x":{"field":"d","type":"ordinal","title":null,"scale":{"domain":{"unionWith":["2026-08-14","2026-08-17","2026-08-18","2026-08-19","2026-08-20","2026-08-21","2026-08-24","2026-08-25","2026-08-26","2026-08-27","2026-08-28","2026-08-31","2026-09-01","2026-09-02"]},"paddingInner":0,"paddingOuter":0},
"axis":{"values":["2025-12-01","2026-01-02","2026-02-02","2026-03-02","2026-04-01","2026-05-04","2026-06-01","2026-07-01","2026-08-03","2026-09-01"],"labels":false,"grid":true,"title":null}},
"y":{"field":"hist","type":"quantitative","scale":{"domain":[-1.19,2.47],"zero":false,"nice":false},
"axis":{"orient":"right","title":null,"values":[0,2],"format":".4f","labelPadding":8,"grid":true,
"gridDash":{"condition":{"test":"datum.value === 0","value":[4,3]},"value":[]},
"gridColor":{"condition":{"test":"datum.value === 0","value":"#a3a6af"},"value":"#e3e5ea"}}},
"y2":{"datum":0},
"color":{"condition":{"test":"datum.hist >= 0","value":"#8097b2"},"value":"#80d2f6"}}},
{"data":{"name":"macd"},"mark":{"type":"line","color":"#1d3c66","strokeWidth":1.3,"interpolate":"monotone"},
"encoding":{"x":{"field":"d","type":"ordinal","title":null},"y":{"field":"v","type":"quantitative","title":null}}},
{"data":{"name":"signal"},"mark":{"type":"line","color":"#27aef0","strokeWidth":1.3,"interpolate":"monotone"},
"encoding":{"x":{"field":"d","type":"ordinal","title":null},"y":{"field":"v","type":"quantitative","title":null}}},
{"data":{"values":[{"t":"MACD (12, 26, close)"}]},"mark":{"type":"text","align":"left","baseline":"middle","dx":4,"fontSize":10.6,"color":"#131722"},
"encoding":{"x":{"datum":"2025-11-06","type":"ordinal"},"y":{"datum":1.93,"type":"quantitative"},"text":{"field":"t"}}},
{"data":{"values":[{"t":"0.0728"}]},"mark":{"type":"text","align":"left","baseline":"middle","dx":124,"fontSize":11,"color":"#1f4a7c"},
"encoding":{"x":{"datum":"2025-11-06","type":"ordinal"},"y":{"datum":1.93,"type":"quantitative"},"text":{"field":"t"}}},
{"data":{"values":[{"t":"0.1298"}]},"mark":{"type":"text","align":"left","baseline":"middle","dx":167,"fontSize":11,"color":"#1f4a7c"},
"encoding":{"x":{"datum":"2025-11-06","type":"ordinal"},"y":{"datum":1.93,"type":"quantitative"},"text":{"field":"t"}}},
{"data":{"values":[{"t":"0.0570"}]},"mark":{"type":"text","align":"left","baseline":"middle","dx":210,"fontSize":11,"color":"#27aef0"},
"encoding":{"x":{"datum":"2025-11-06","type":"ordinal"},"y":{"datum":1.93,"type":"quantitative"},"text":{"field":"t"}}}
]
},
{
"width":1755,"height":82,
"title":{"text":"TradingView","orient":"bottom","anchor":"start","fontSize":20,"fontWeight":"bold","color":"#131722","font":"Inter","dx":35,"offset":24},
"layer":[
{"data":{"name":"rsibands"},"mark":{"type":"rule","color":"#0f3363","strokeWidth":1.3},
"encoding":{"y":{"field":"v","type":"quantitative","scale":{"domain":[23.7,94.2],"zero":false,"nice":false},
"axis":{"orient":"right","title":null,"values":[40,80],"format":".2f","labelPadding":8,"grid":true}}}},
{"data":{"name":"bars"},"mark":{"type":"line","color":"#f7871f","strokeWidth":2},
"encoding":{
"x":{"field":"d","type":"ordinal","title":null,"scale":{"domain":{"unionWith":["2026-08-14","2026-08-17","2026-08-18","2026-08-19","2026-08-20","2026-08-21","2026-08-24","2026-08-25","2026-08-26","2026-08-27","2026-08-28","2026-08-31","2026-09-01","2026-09-02"]},"paddingInner":0,"paddingOuter":0},
"axis":{"values":["2025-12-01","2026-01-02","2026-02-02","2026-03-02","2026-04-01","2026-05-04","2026-06-01","2026-07-01","2026-08-03","2026-09-01"],"labels":true,"labelAngle":0,"labelAlign":"center","labelBaseline":"top","grid":true,"title":null,"labelPadding":7,"labelFontSize":11.5,"labelExpr":"datum.value == '2026-01-02' ? '2026' : utcFormat(toDate(datum.value), '%b')","labelFontWeight":{"condition":{"test":"datum.value == '2026-01-02'","value":"bold"},"value":"normal"}}},
"y":{"field":"rsi","type":"quantitative","title":null}}},
{"data":{"values":[{"t":"RSI (14, close)"}]},"mark":{"type":"text","align":"left","baseline":"middle","dx":4,"fontSize":10.6,"color":"#131722"},
"encoding":{"x":{"datum":"2025-11-06","type":"ordinal"},"y":{"datum":81.4,"type":"quantitative"},"text":{"field":"t"}}},
{"data":{"values":[{"t":"55.10"}]},"mark":{"type":"text","align":"left","baseline":"middle","dx":89.5,"fontSize":11,"color":"#f7871f"},
"encoding":{"x":{"datum":"2025-11-06","type":"ordinal"},"y":{"datum":81.4,"type":"quantitative"},"text":{"field":"t"}}}
]
}
]
}
